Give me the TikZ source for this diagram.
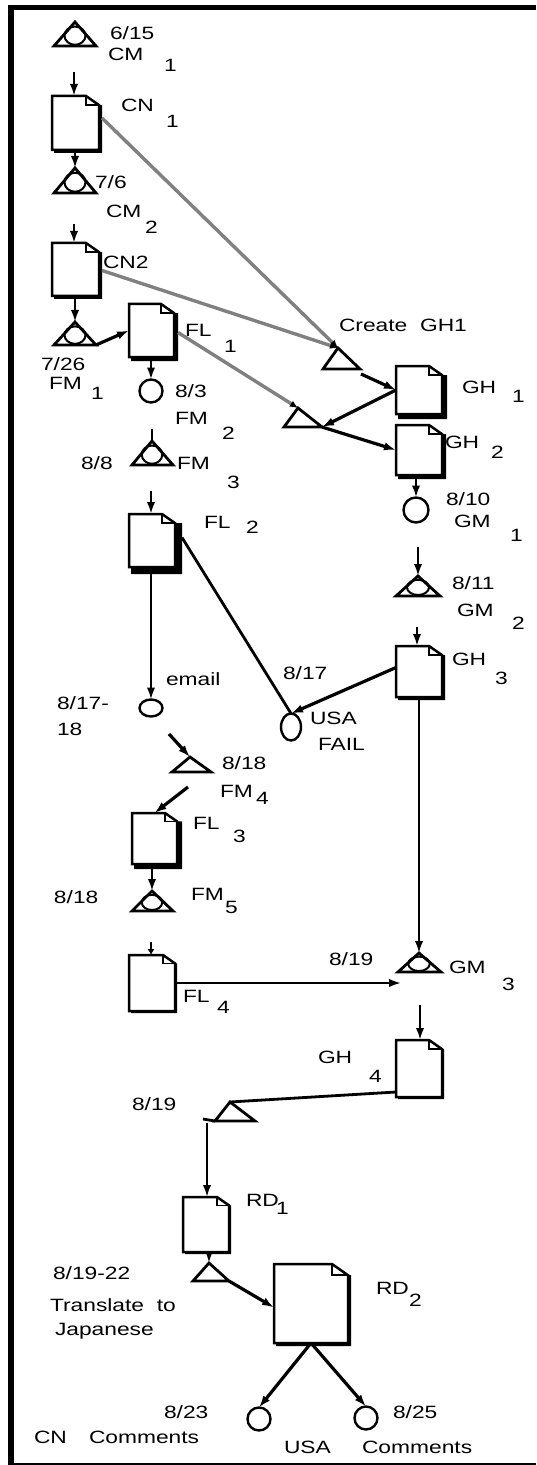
\documentclass[tikz,border=0pt]{standalone}
\usepackage{fontspec}
\setmainfont{Liberation Sans}[FakeStretch=1.28]
\usetikzlibrary{arrows.meta,shapes.geometric}

% page with folded corner: name, left, top, right, bottom, fold, shadow
\newcommand{\docnode}[7]{
  \fill ({#4},{#3+#6*.7}) -- ({#4+#7},{#3+#6*.7}) -- ({#4+#7},{#5+#7}) -- ({#2+2},{#5+#7}) -- ({#2+2},#5) -- (#4,#5) -- cycle;
  \draw[docline,fill=white] (#2,#3) -- ({#4-#6},#3) -- (#4,{#3+#6*.7}) -- (#4,#5) -- (#2,#5) -- cycle;
  \draw[docline,line width=.9pt] ({#4-#6},#3) -- ({#4-#6},{#3+#6*.7}) -- (#4,{#3+#6*.7});
  \node[hold,minimum width={(#4-#2)*.5pt},minimum height={(#5-#3)*.5pt}] (#1) at ({(#2+#4)/2},{(#3+#5)/2}) {};
}
% triangle: name, left, apex x, right, top, base
\newcommand{\trinode}[6]{
  \draw[tri] (#3,#5) -- (#2,#6) -- (#4,#6) -- cycle;
  \node[hold,minimum width={(#4-#2)*.5pt},minimum height={(#6-#5)*.5pt}] (#1) at ({(#2+#4)/2},{(#5+#6)/2}) {};
  \coordinate (#1a) at (#3,#5);
}
% same with the eye inside
\newcommand{\eyenode}[6]{
  \trinode{#1}{#2}{#3}{#4}{#5}{#6}
  \draw[eye] (#3,{#6-(#6-#5)*.43}) ellipse ({(#4-#2)*.25} and {(#6-#5)*.38});
}

\begin{document}
\begin{tikzpicture}[x=0.5pt,y=-0.5pt,
  hold/.style={rectangle,inner sep=0pt,outer sep=0pt},
  docline/.style={line width=1.25pt,line join=miter},
  tri/.style={line width=1.4pt,line join=miter},
  eye/.style={line width=1pt},
  circ/.style={ellipse,draw,line width=1.2pt,inner sep=0pt,outer sep=0pt},
  conn/.style={line width=1.25pt,-{Latex[length=6pt,width=4.2pt]}},
  thinconn/.style={conn,line width=1.05pt},
  heavy/.style={conn,line width=1.6pt},
  wire/.style={line width=1.4pt},
  greyline/.style={line width=1.7pt,color=black!50,-{Latex[length=4pt,width=3.5pt,black]}},
  lbl/.style={anchor=base west,inner sep=0pt,outer sep=0pt,font=\fontsize{8.9}{10}\selectfont}]
  \useasboundingbox (0,0) rectangle (536,1465);
  \fill (8,5) rectangle (536,10);
  \fill (8,5) rectangle (14,1465);
  \fill (8,1462.5) rectangle (536,1465);

  % left column
  \eyenode{CM1}{54}{75}{96}{22}{46}
  \docnode{CN1}{52}{96}{99}{150}{13}{3}
  \eyenode{CM2}{54}{75}{96}{168}{193}
  \docnode{CN2}{52}{243}{99}{296}{13}{3}
  \eyenode{FM1}{54}{75}{96}{322}{345}
  \docnode{FL1}{129}{304}{174}{357}{13}{4}
  \node[circ,minimum width=11.5pt,minimum height=11.5pt] (FM2) at (151,391) {};
  \eyenode{FM3}{132}{152}{173}{441}{465}
  \docnode{FL2}{129}{514}{175}{567}{13}{7}
  \node[circ,minimum width=11.5pt,minimum height=8.5pt] (Email) at (151,708) {};
  \trinode{FM4}{172}{190}{211}{757}{772}
  \docnode{FL3}{132}{813}{177}{864}{12}{5}
  \eyenode{FM5}{132}{152}{173}{891}{911}
  \docnode{FL4}{129}{955}{175}{1011}{12}{2}

  % right column
  \trinode{Create}{323}{338}{360}{348}{369}
  \docnode{GH1}{396}{366}{442}{414}{13}{5}
  \trinode{Merge}{284}{298}{322}{408}{427}
  \docnode{GH2}{396}{425}{442}{475}{13}{4}
  \node[circ,minimum width=12.5pt,minimum height=12.5pt] (GM1) at (416,510) {};
  \eyenode{GM2}{396}{418}{440}{576}{596}
  \docnode{GH3}{396}{646}{442}{697}{13}{3}
  \node[circ,minimum width=10pt,minimum height=13.5pt] (Fail) at (291,727) {};
  \eyenode{GM3}{398}{419}{441}{953}{972}
  \docnode{GH4}{396}{1040}{442}{1097}{13}{2}

  % bottom
  \trinode{Review}{215}{230}{255}{1102}{1121}
  \docnode{RD1}{183}{1197}{229}{1252}{12}{2}
  \trinode{Trans}{193}{209}{229}{1263}{1281}
  \docnode{RD2}{274}{1264}{348}{1343}{16}{3}
  \node[circ,minimum width=11.5pt,minimum height=11.5pt] (CNc) at (259,1419) {};
  \node[circ,minimum width=11.5pt,minimum height=11.5pt] (USAc) at (366,1418) {};

  % free ends
  \coordinate (CN1in) at (74,72); \coordinate (CN2in) at (74,224);
  \coordinate (FM3in) at (152,429); \coordinate (FL2in) at (151,491);
  \coordinate (FM4in) at (169,734); \coordinate (FL3in) at (188,787);
  \coordinate (FL4in) at (151,942); \coordinate (GH1in) at (361,374);
  \coordinate (GM2in) at (418,547); \coordinate (GH3in) at (417,627);
  \coordinate (GM3end) at (401,983); \coordinate (GH4in) at (420,1005);
  \coordinate (RDflag) at (203,1119); \coordinate (RDdown) at (207,1123);

  % grey links
  \draw[greyline] ([shift={(3,-5)}]CN1.east) -- (Createa);
  \draw[greyline] ([shift={(3,1)}]CN2.east) -- (Createa);
  \draw[greyline] ([shift={(4,2)}]FL1.east) -- (Mergea);

  % connectors
  \draw[conn] (CN1in) -- (CN1in |- CN1.north);
  \draw[conn] (CM2a |- CN1.south) -- (CM2a);
  \draw[conn] (CN2in) -- (CN2in |- CN2.north);
  \draw[conn] (FM1a |- CN2.south) -- (FM1a);
  \draw[heavy] (FM1.south east) -- (FL1.west);
  \draw[conn] (FM2.north |- FL1.south) -- (FM2.north);
  \draw[wire] (FM3in) -- (FM3a);
  \draw[conn] (FL2in) -- (FL2in |- FL2.north);
  \draw[thinconn] (Email.north |- FL2.south) -- (Email.north);
  \draw[wire] ([shift={(7,-3)}]FL2.east) -- (Fail.north);
  \draw[heavy] ([yshift=2pt]GH3.west) -- (Fail.north);
  \draw[heavy] (FM4in) -- (FM4a);
  \draw[heavy] (FL3in) -- (FL3.north);
  \draw[conn] (FM5a |- FL3.south) -- (FM5a);
  \draw[conn,-{Latex[length=3pt,width=3.6pt]}] (FL4in) -- (FL4in |- FL4.north);
  \draw[thinconn] (FL4.east) -- (GM3end |- FL4.east);
  \draw[heavy] (GH1in) -- (GH1.west);
  \draw[heavy] (GH1.west) -- (Merge.south east);
  \draw[heavy] (Merge.south east) -- (GH2.west);
  \draw[conn] (GM1.north |- GH2.south) -- (GM1.north);
  \draw[conn] (GM2in) -- (GM2a);
  \draw[conn] (GH3in) -- (GH3in |- GH3.north);
  \draw[thinconn] (GM3a |- GH3.south) -- (GM3a);
  \draw[conn] (GH4in) -- (GH4in |- GH4.north);
  \draw[wire] ([yshift=-11.75pt]GH4.west) -- (Reviewa);
  \draw[wire] (RDflag) -- (Review.south west);
  \draw[thinconn] (RDdown) -- (RDdown |- RD1.north);
  \draw[conn] (Transa |- RD1.south) -- (Transa);
  \draw[heavy] (Trans.south east) -- ([yshift=-2pt]RD2.west);
  \draw[heavy] (RD2.south) -- (CNc.north);
  \draw[heavy] (RD2.south) -- (USAc.north);

  % labels
  \node[lbl] (CM1date) at (110,40) {6/15}; \node[lbl] (CM1txt) at (108,61) {CM}; \node[lbl] (CM1sub) at (164,72) {1};
  \node[lbl] (CN1txt) at (121,112) {CN}; \node[lbl] (CN1sub) at (166,128) {1};
  \node[lbl] (CM2date) at (95,189) {7/6}; \node[lbl] (CM2txt) at (106,218) {CM}; \node[lbl] (CM2sub) at (145,234) {2};
  \node[lbl] (CN2txt) at (103,269) {CN2};
  \node[lbl] (FL1txt) at (185,336) {FL}; \node[lbl] (FL1sub) at (224,352) {1};
  \node[lbl] (CreateTxt) at (339,332) {Create\ \ GH1};
  \node[lbl] (FM1date) at (41,370) {7/26}; \node[lbl] (FM1txt) at (49,389) {FM}; \node[lbl] (FM1sub) at (91,399) {1};
  \node[lbl] (FM2date) at (175,397) {8/3}; \node[lbl] (FM2txt) at (175,424) {FM}; \node[lbl] (FM2sub) at (222,439) {2};
  \node[lbl] (FM3date) at (81,469) {8/8}; \node[lbl] (FM3txt) at (177,469) {FM}; \node[lbl] (FM3sub) at (227,488) {3};
  \node[lbl] (GH1txt) at (462,393) {GH}; \node[lbl] (GH1sub) at (512,402) {1};
  \node[lbl] (GH2txt) at (445,448) {GH}; \node[lbl] (GH2sub) at (491,458) {2};
  \node[lbl] (FL2txt) at (204,528) {FL}; \node[lbl] (FL2sub) at (246,533) {2};
  \node[lbl] (GM1date) at (446,505) {8/10}; \node[lbl] (GM1txt) at (454,527) {GM}; \node[lbl] (GM1sub) at (510,541) {1};
  \node[lbl] (GM2date) at (452,589) {8/11}; \node[lbl] (GM2txt) at (457,616) {GM}; \node[lbl] (GM2sub) at (512,629) {2};
  \node[lbl] (GH3txt) at (452,665) {GH}; \node[lbl] (GH3sub) at (495,684) {3};
  \node[lbl] (EmailTxt) at (166,685) {email};
  \node[lbl] (EmailDate) at (57,709) {8/17-}; \node[lbl] (EmailDateb) at (57,735) {18};
  \node[lbl] (FailDate) at (283,679) {8/17}; \node[lbl] (FailTxt) at (310,724) {USA}; \node[lbl] (FailTxtb) at (318,750) {FAIL};
  \node[lbl] (FM4date) at (222,769) {8/18}; \node[lbl] (FM4txt) at (220,797) {FM}; \node[lbl] (FM4sub) at (256,804) {4};
  \node[lbl] (FL3txt) at (193,829) {FL}; \node[lbl] (FL3sub) at (233,842) {3};
  \node[lbl] (FM5date) at (54,903) {8/18}; \node[lbl] (FM5txt) at (191,900) {FM}; \node[lbl] (FM5sub) at (225,913) {5};
  \node[lbl] (GM3date) at (329,965) {8/19}; \node[lbl] (GM3txt) at (449,973) {GM}; \node[lbl] (GM3sub) at (502,990) {3};
  \node[lbl] (FL4txt) at (183,1002) {FL}; \node[lbl] (FL4sub) at (217,1013) {4};
  \node[lbl] (GH4txt) at (318,1063) {GH}; \node[lbl] (GH4sub) at (369,1082) {4};
  \node[lbl] (ReviewDate) at (132,1110) {8/19};
  \node[lbl] (RD1txt) at (246,1206) {RD}; \node[lbl] (RD1sub) at (276,1214) {1};
  \node[lbl] (TransDate) at (53,1279) {8/19-22};
  \node[lbl] (TransTxt) at (50,1311) {Translate\ \ to}; \node[lbl] (TransTxtb) at (55,1335) {Japanese};
  \node[lbl] (RD2txt) at (376,1294) {RD}; \node[lbl] (RD2sub) at (409,1306) {2};
  \node[lbl] (CNcDate) at (164,1418) {8/23}; \node[lbl] (USAcDate) at (393,1418) {8/25};
  \node[lbl] (CNcTxt) at (34,1443) {CN}; \node[lbl] (CNcTxtb) at (89,1443) {Comments};
  \node[lbl] (USAcTxt) at (284,1453) {USA}; \node[lbl] (USAcTxtb) at (362,1453) {Comments};
\end{tikzpicture}
\end{document}
